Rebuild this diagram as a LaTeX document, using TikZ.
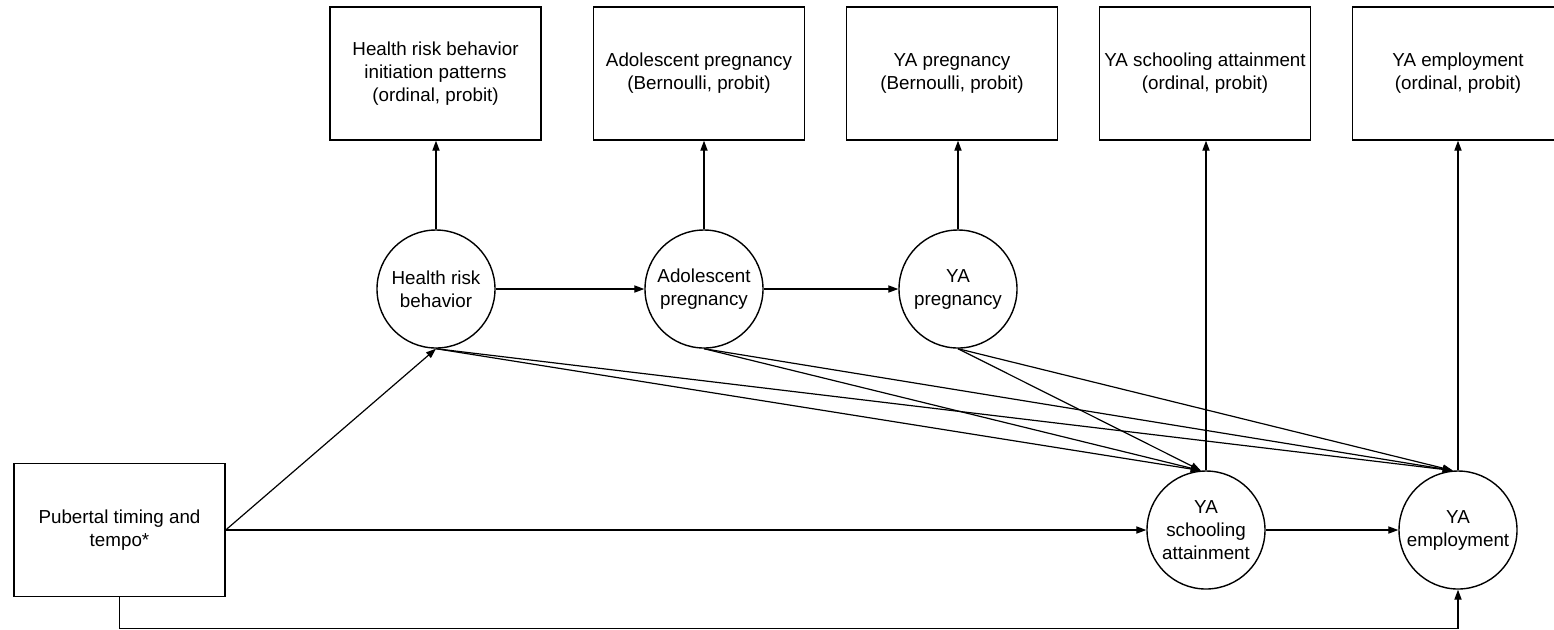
\documentclass[tikz,border=0pt]{standalone}
\usepackage{fontspec}
\setmainfont{Liberation Sans}
\usetikzlibrary{arrows.meta}
\begin{document}
\begin{tikzpicture}[x=0.5pt,y=-0.5pt,
  box/.style={draw,line width=0.7pt,minimum width=105.5pt,minimum height=66.5pt,inner sep=0pt,align=center,font=\fontsize{9.4}{11.5}\selectfont},
  lat/.style={draw,circle,line width=0.7pt,minimum size=59pt,inner sep=0pt,align=center,font=\fontsize{9.4}{11.5}\selectfont},
  arr/.style={line width=0.6pt,-{Triangle[length=5pt,width=3.6pt]}}]
\useasboundingbox (0,0) rectangle (1554,629);
% top observed boxes
\node[box] (b1) at (435.5,73.5) {Health risk behavior\\initiation patterns\\(ordinal, probit)};
\node[box] (b2) at (699,73.5) {Adolescent pregnancy\\(Bernoulli, probit)};
\node[box] (b3) at (952,73.5) {YA pregnancy\\(Bernoulli, probit)};
\node[box] (b4) at (1205,73.5) {YA schooling attainment\\(ordinal, probit)};
\node[box] (b5) at (1458,73.5) {YA employment\\(ordinal, probit)};
% latent circles
\node[lat] (hrb) at (436,289) {Health risk\\behavior};
\node[lat] (ap) at (704,289) {Adolescent\\pregnancy};
\node[lat] (yap) at (958,289) {YA\\pregnancy};
\node[lat] (ys) at (1206,530) {YA\\schooling\\attainment};
\node[lat] (ye) at (1458,530) {YA\\employment};
% pubertal box
\node[box] (pt) at (119.5,530) {Pubertal timing and\\tempo*};
% measurement arrows
\draw[arr] (hrb.north) -- (hrb.north |- b1.south);
\draw[arr] (ap.north) -- (ap.north |- b2.south);
\draw[arr] (yap.north) -- (yap.north |- b3.south);
\draw[arr] (ys.north) -- (ys.north |- b4.south);
\draw[arr] (ye.north) -- (ye.north |- b5.south);
% horizontal paths
\draw[arr] (hrb.east) -- (ap.west);
\draw[arr] (ap.east) -- (yap.west);
\draw[arr] (pt.east) -- (ys.west);
\draw[arr] (ys.east) -- (ye.west);
\draw[arr] (pt.east) -- (hrb.south);
\draw[arr] (pt.south) -- ++(0,31) -| (ye.south);
% diagonal paths
\foreach \s in {hrb,ap,yap}{
  \draw[arr] (\s.south) -- (ys.95);
  \draw[arr] (\s.south) -- (ye.95);
}
\end{tikzpicture}
\end{document}
